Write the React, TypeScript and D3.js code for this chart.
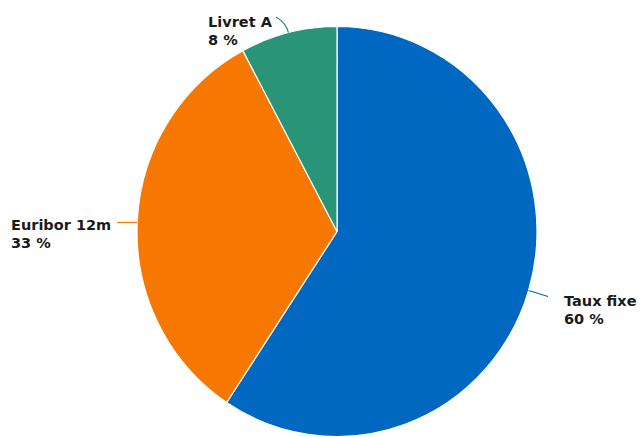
import React from "react";
import * as d3 from "d3";

const categories = ["Taux fixe", "Euribor 12m", "Livret A"];
const values = [59.3, 32.9, 7.8];
const percentLabels = ["60 %", "33 %", "8 %"];
const colors = ["#0068C0", "#F77800", "#2A9478"];

const W = 642;
const H = 437;
const cx = 337;
const cy = 231.5;
const rx = 200;
const ry = 205;

const labelLayout = [
  { tx: 564, ty: 306, ex: 548, ey: 296.5, bend: 10 },
  { tx: 11, ty: 230, ex: 117, ey: 222.5, bend: 0 },
  { tx: 208, ty: 27, ex: 276, ey: 17, bend: 10 },
];

export default function App() {
  const pie = d3.pie<number>().sort(null).value((d) => d);
  const arcs = pie(values);
  const arcGen = d3.arc<d3.PieArcDatum<number>>().innerRadius(0).outerRadius(rx);

  return (
    <svg width={W} height={H} style={{ position: "absolute", left: 0, top: 0 }}>
      <rect width={W} height={H} fill="#fff" />
      <g transform={`translate(${cx},${cy}) scale(1,${ry / rx})`}>
        {arcs.map((a, i) => (
          <path
            key={i}
            d={arcGen(a) || ""}
            fill={colors[i]}
            stroke="#fff"
            strokeWidth={1.2}
            vectorEffect="non-scaling-stroke"
          />
        ))}
      </g>
      {arcs.map((a, i) => {
        const mid = (a.startAngle + a.endAngle) / 2;
        const px = cx + rx * Math.sin(mid);
        const py = cy - ry * Math.cos(mid);
        const L = labelLayout[i];
        const ox = px + L.bend * Math.sin(mid);
        const oy = py - L.bend * Math.cos(mid);
        const d =
          L.bend === 0
            ? `M${px},${L.ey} L${L.ex},${L.ey}`
            : `M${px},${py} Q${ox},${oy} ${L.ex},${L.ey}`;
        return (
          <g key={i}>
            <path d={d} fill="none" stroke={colors[i]} strokeWidth={1.2} />
            <text
              x={L.tx}
              y={L.ty}
              fontFamily="DejaVu Sans"
              fontWeight="bold"
              fontSize={14.5}
              fill="#1a1a1a"
            >
              <tspan x={L.tx}>{categories[i]}</tspan>
              <tspan x={L.tx} dy={18}>
                {percentLabels[i]}
              </tspan>
            </text>
          </g>
        );
      })}
    </svg>
  );
}
